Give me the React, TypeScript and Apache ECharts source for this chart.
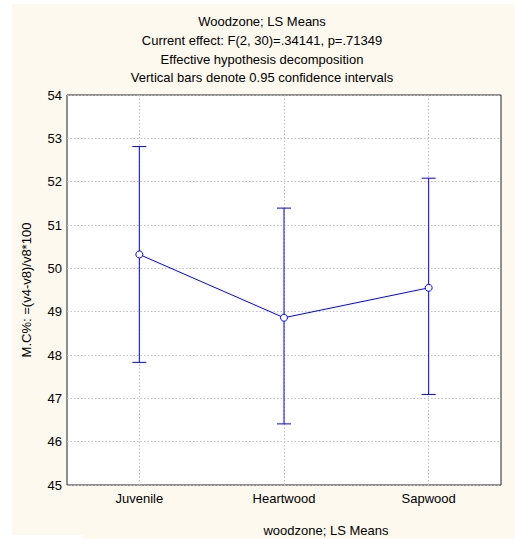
import React, { useEffect, useRef } from "react";
import * as echarts from "echarts";

const categories = ["Juvenile", "Heartwood", "Sapwood"];
const means = [50.32, 48.86, 49.55];
const lower = [47.83, 46.41, 47.09];
const upper = [52.81, 51.39, 52.08];
const titleLines = [
  "Woodzone; LS Means",
  "Current effect: F(2, 30)=.34141, p=.71349",
  "Effective hypothesis decomposition",
  "Vertical bars denote 0.95 confidence intervals",
];
const yName = "M.C%: =(v4-v8)/v8*100";
const footer = "woodzone; LS Means";

const FONT = "'Liberation Sans', Arial, sans-serif";
const BLUE = "#0000ff";
const CREAM = "#fdf9ee";

export default function App() {
  const ref = useRef<HTMLDivElement>(null);
  useEffect(() => {
    document.body.style.margin = "0";
    const chart = echarts.init(ref.current!, null, { renderer: "svg" });
    const titleY = [21, 40, 59, 77];
    const option: any = {
      animation: false,
      graphic: [
        { type: "rect", z: -10, shape: { x: 12, y: 4, width: 503, height: 531 }, style: { fill: CREAM } },
        { type: "rect", z: -10, shape: { x: 83, y: 530, width: 432, height: 9 }, style: { fill: CREAM } },
        ...titleLines.map((t, i) => ({
          type: "text",
          x: 262,
          y: titleY[i],
          style: { text: t, fill: "#000", font: `13px ${FONT}`, textAlign: "center", textVerticalAlign: "middle" },
        })),
        {
          type: "text",
          x: 326,
          y: 530,
          style: { text: footer, fill: "#000", font: `13px ${FONT}`, textAlign: "center", textVerticalAlign: "middle" },
        },
      ],
      grid: {
        left: 67,
        top: 95,
        right: 14,
        bottom: 54,
        show: true,
        backgroundColor: "#ffffff",
        borderColor: "#222",
        borderWidth: 1,
      },
      xAxis: {
        type: "category",
        data: categories,
        boundaryGap: true,
        axisLine: { show: false },
        axisTick: { show: false },
        splitLine: { show: false },
        axisLabel: { color: "#000", fontSize: 13, fontFamily: FONT, margin: 7 },
      },
      yAxis: {
        type: "value",
        min: 45,
        max: 54,
        interval: 1,
        name: yName,
        nameLocation: "middle",
        nameRotate: 90,
        nameGap: 34,
        nameTextStyle: { color: "#000", fontSize: 13, fontFamily: FONT },
        axisLine: { show: false },
        axisTick: { show: false },
        axisLabel: { color: "#000", fontSize: 13, fontFamily: FONT, margin: 5 },
        splitLine: { show: true, lineStyle: { color: "#c0c0c0", type: [1.5, 2], width: 1 } },
      },
      series: [
        {
          type: "custom",
          z: 3,
          data: categories.map((_, i) => [i, lower[i], upper[i]]),
          renderItem: (params: any, api: any) => {
            const idx = api.value(0);
            const lo = api.coord([idx, api.value(1)]);
            const hi = api.coord([idx, api.value(2)]);
            const hw = 7;
            const style = { stroke: BLUE, lineWidth: 1 };
            return {
              type: "group",
              children: [
                { type: "line", shape: { x1: lo[0], y1: lo[1], x2: hi[0], y2: hi[1] }, style },
                { type: "line", shape: { x1: lo[0] - hw, y1: lo[1], x2: lo[0] + hw, y2: lo[1] }, style },
                { type: "line", shape: { x1: hi[0] - hw, y1: hi[1], x2: hi[0] + hw, y2: hi[1] }, style },
              ],
            };
          },
        },
        {
          type: "line",
          z: 4,
          data: means,
          symbol: "circle",
          symbolSize: 7,
          lineStyle: { color: BLUE, width: 1 },
          itemStyle: { color: "#ffffff", borderColor: BLUE, borderWidth: 1 },
          markLine: {
            silent: true,
            symbol: "none",
            label: { show: false },
            z: 1,
            lineStyle: { color: "#c0c0c0", type: [1.5, 2], width: 1 },
            data: categories.map((c) => ({ xAxis: c })),
          },
        },
      ],
    };
    chart.setOption(option);
    return () => chart.dispose();
  }, []);
  return <div ref={ref} style={{ width: 515, height: 539 }} />;
}
